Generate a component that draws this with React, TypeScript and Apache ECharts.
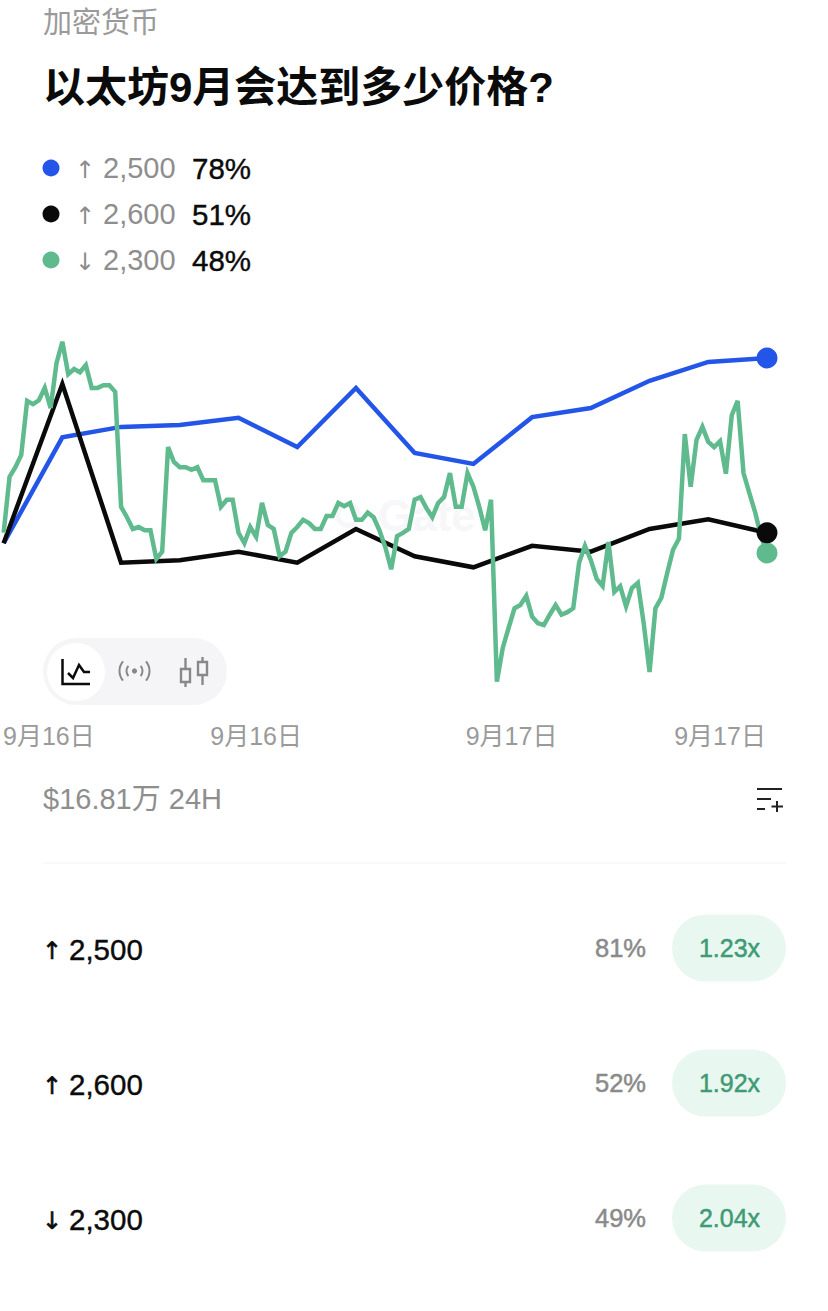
import React, { useEffect, useRef } from "react";
import * as echarts from "echarts";

const categoryLabel = "加密货币";
const title = "以太坊9月会达到多少价格?";
const volumeLabel = "$16.81万 24H";

const outcomeNames = ["2,500", "2,600", "2,300"];
const outcomeArrows = ["↑", "↑", "↓"];
const chancePct = ["78%", "51%", "48%"];
const rowPct = ["81%", "52%", "49%"];
const multipliers = ["1.23x", "1.92x", "2.04x"];
const seriesColors = ["#2355e8", "#0a0a0a", "#5fba8e"];

// x is measured in sample steps along the time axis
const coarseX = [0, 10, 20, 30, 40, 50, 60, 70, 80, 90, 100, 110, 120, 130];
const blueValues = [49.5, 65.8, 67.4, 67.7, 68.8, 64.3, 73.4, 63.4, 61.7, 68.9, 70.3, 74.5, 77.4, 78];
const blackValues = [49.5, 74.0, 46.5, 46.9, 48.2, 46.5, 51.7, 47.5, 45.8, 49.1, 48.2, 51.7, 53.2, 51.1];
const greenValues = [
  51.1, 59.7, 61.2, 63.1, 71.4, 70.9, 71.5, 73.4, 70.3, 77.2,
  80.5, 75.5, 76.3, 75.8, 76.9, 73.4, 73.4, 73.8, 73.8, 72.8,
  55.1, 53.5, 51.7, 52.0, 51.5, 51.5, 47.1, 48.2, 64.3, 62.0,
  61.2, 61.2, 60.8, 61.2, 59.2, 59.2, 59.2, 55.1, 56.2, 56.2,
  51.1, 49.5, 52.0, 50.5, 55.7, 52.3, 51.7, 47.5, 48.2, 51.1,
  52.0, 53.1, 52.6, 51.7, 51.7, 53.7, 53.7, 55.7, 55.2, 55.7,
  53.1, 53.1, 54.2, 53.5, 51.5, 48.9, 45.5, 50.6, 51.1, 51.7,
  56.2, 56.6, 54.9, 53.5, 55.7, 56.6, 60.3, 55.1, 55.1, 60.3,
  58.2, 55.1, 51.5, 56.2, 28.2, 33.4, 36.5, 39.5, 40.0, 41.4,
  38.2, 37.2, 36.9, 38.5, 40.0, 38.5, 38.9, 39.5, 46.5, 49.1,
  46.9, 44.0, 42.9, 49.7, 42.0, 42.9, 39.8, 42.6, 43.4, 37.2,
  29.7, 39.5, 41.1, 44.9, 48.5, 50.2, 66.3, 58.2, 65.4, 67.4,
  65.1, 64.3, 65.2, 60.2, 69.2, 71.4, 60.3, 57.2, 54.2, 50.5, 48.0,
];
const tickPositions = [7.7, 43, 86.5, 122];
const tickLabels = ["9月16日", "9月16日", "9月17日", "9月17日"];

const FONT = '"Liberation Sans", "Noto Sans CJK SC", sans-serif';
const ARROW_FONT = '"DejaVu Sans", sans-serif';

function text(x: number, y: number, t: string, fontSize: number, fill: string, extra: any = {}) {
  const { z, ...style } = extra;
  return {
    type: "text",
    x,
    y,
    z: z ?? 10,
    silent: true,
    style: { text: t, fontSize, fill, fontFamily: FONT, textAlign: "left", textVerticalAlign: "middle", ...style },
  };
}
function stroke(points: number[][], color: string, lineWidth = 2) {
  return {
    type: "polyline",
    z: 12,
    silent: true,
    shape: { points },
    style: { stroke: color, lineWidth, fill: "none", lineCap: "butt", lineJoin: "miter" },
  };
}
function arc(cx: number, cy: number, r: number, startAngle: number, endAngle: number, color: string) {
  return {
    type: "arc",
    z: 12,
    silent: true,
    shape: { cx, cy, r, startAngle, endAngle },
    style: { stroke: color, lineWidth: 2, fill: "none" },
  };
}
function rect(x: number, y: number, w: number, h: number, fill: string, r = 0, strokeColor?: string) {
  return {
    type: "rect",
    z: strokeColor ? 12 : 9,
    silent: true,
    shape: { x, y, width: w, height: h, r },
    style: strokeColor ? { fill: "none", stroke: strokeColor, lineWidth: 2.4 } : { fill },
  };
}

function buildGraphic() {
  const els: any[] = [];
  els.push(text(43, 23, categoryLabel, 29, "#9a9a9a"));
  els.push(text(43, 87, title, 42, "#0b0b0b", { fontWeight: "bold" }));

  const legendY = [168, 214, 260];
  outcomeNames.forEach((name, i) => {
    const y = legendY[i];
    els.push({ type: "circle", z: 10, silent: true, shape: { cx: 51, cy: y, r: 8.5 }, style: { fill: seriesColors[i] } });
    els.push(text(85, y + 2, outcomeArrows[i], 24, "#8c8c8c", { textAlign: "center", fontFamily: ARROW_FONT }));
    els.push(text(103, y, name, 29, "#8e8e8e"));
    els.push(text(192, y, chancePct[i], 29.5, "#0b0b0b", { stroke: "#0b0b0b", lineWidth: 0.4 }));
  });

  // watermark
  els.push({ type: "ring", z: 0, silent: true, shape: { cx: 348, cy: 515, r: 13, r0: 8 }, style: { fill: "#f7f7f9" } });
  els.push(text(378, 515, "Gate", 44, "#f7f7f9", { z: 0, fontWeight: "bold" }));

  // chart type toggle
  els.push(rect(43, 638, 184, 67, "#f5f5f7", 33.5));
  els.push({ type: "circle", z: 10, silent: true, shape: { cx: 76, cy: 672, r: 29 }, style: { fill: "#ffffff" } });
  els.push(stroke([[62.5, 659], [62.5, 684], [90, 684]], "#0b0b0b", 2.5));
  els.push(stroke([[68, 673], [73, 678], [79, 665], [84, 672], [90, 672]], "#0b0b0b", 2.5));
  els.push({ type: "circle", z: 12, silent: true, shape: { cx: 134.5, cy: 671, r: 2.6 }, style: { fill: "#888888" } });
  const d40 = (40 * Math.PI) / 180;
  els.push(arc(134.5, 671, 8, -d40, d40, "#888888"));
  els.push(arc(134.5, 671, 8, Math.PI - d40, Math.PI + d40, "#888888"));
  els.push(arc(134.5, 671, 15, -d40, d40, "#888888"));
  els.push(arc(134.5, 671, 15, Math.PI - d40, Math.PI + d40, "#888888"));
  els.push(rect(181, 669, 9, 13, "none", 0, "#888888"));
  els.push(stroke([[185.5, 658], [185.5, 669]], "#888888", 2.4));
  els.push(stroke([[185.5, 682], [185.5, 687]], "#888888", 2.4));
  els.push(rect(198, 662, 9, 13, "none", 0, "#888888"));
  els.push(stroke([[202.5, 657], [202.5, 662]], "#888888", 2.4));
  els.push(stroke([[202.5, 675], [202.5, 685]], "#888888", 2.4));

  els.push(text(43, 799, volumeLabel, 29, "#8e8e8e"));
  els.push(stroke([[757, 789], [782, 789]], "#222222"));
  els.push(stroke([[757, 799], [771, 799]], "#222222"));
  els.push(stroke([[757, 809], [765, 809]], "#222222"));
  els.push(stroke([[771.5, 806.5], [783, 806.5]], "#222222"));
  els.push(stroke([[777, 801], [777, 812]], "#222222"));
  els.push({
    type: "line",
    z: 9,
    silent: true,
    shape: { x1: 43, y1: 863, x2: 786, y2: 863 },
    style: { stroke: "#f3f3f3", lineWidth: 1 },
  });

  const rowY = [949, 1084, 1219];
  outcomeNames.forEach((name, i) => {
    const y = rowY[i];
    els.push(text(52, y + 2, outcomeArrows[i], 24, "#0b0b0b", { textAlign: "center", fontFamily: ARROW_FONT, stroke: "#0b0b0b", lineWidth: 0.6 }));
    els.push(text(69, y, name, 29.5, "#0b0b0b", { stroke: "#0b0b0b", lineWidth: 0.4 }));
    els.push(text(646, y - 1, rowPct[i], 25.5, "#8a8a8a", { textAlign: "right", stroke: "#8a8a8a", lineWidth: 0.5 }));
    els.push(rect(672, y - 34.5, 114, 67, "#e9f7f1", 33.5));
    els.push(text(729.5, y - 1, multipliers[i], 25, "#3f9b75", { textAlign: "center", stroke: "#3f9b75", lineWidth: 0.5 }));
  });
  return els;
}

function endDot(x: number, y: number, color: string, z: number) {
  return {
    silent: true,
    z,
    symbol: "circle",
    symbolSize: 21,
    itemStyle: { color },
    label: { show: false },
    data: [{ coord: [x, y] }],
  };
}

function lineSeries(name: string, data: number[][], color: string, dotZ: number) {
  const last = data[data.length - 1];
  return {
    name,
    type: "line",
    data,
    showSymbol: false,
    silent: true,
    lineStyle: { color, width: 4.5, join: "miter" },
    itemStyle: { color },
    markPoint: endDot(last[0], last[1], color, dotZ),
  };
}

export default function App() {
  const ref = useRef<HTMLDivElement>(null);
  useEffect(() => {
    document.body.style.margin = "0";
    const chart = echarts.init(ref.current!, undefined, { renderer: "svg" });
    chart.setOption({
      animation: false,
      backgroundColor: "#ffffff",
      grid: { left: 3, right: 61, top: 280, height: 442 },
      xAxis: {
        type: "value",
        min: 0,
        max: 130,
        splitLine: { show: false },
        axisLine: { show: false },
        axisTick: { show: false },
        axisLabel: {
          show: true,
          customValues: tickPositions,
          formatter: (v: number) => tickLabels[tickPositions.indexOf(v)] ?? "",
          color: "#9a9a9a",
          fontSize: 25,
          fontFamily: FONT,
          margin: 1,
          hideOverlap: false,
          showMinLabel: true,
          showMaxLabel: true,
        },
      },
      yAxis: { type: "value", min: 22, max: 90, show: false },
      series: [
        lineSeries("↑ 2,500", coarseX.map((x, i) => [x, blueValues[i]]), seriesColors[0], 5),
        lineSeries("↑ 2,600", coarseX.map((x, i) => [x, blackValues[i]]), seriesColors[1], 7),
        lineSeries("↓ 2,300", greenValues.map((v, i) => [i, v]), seriesColors[2], 6),
      ],
      graphic: { elements: buildGraphic() },
    });
    return () => chart.dispose();
  }, []);
  return <div ref={ref} style={{ position: "absolute", left: 0, top: 0, width: 828, height: 1311 }} />;
}
